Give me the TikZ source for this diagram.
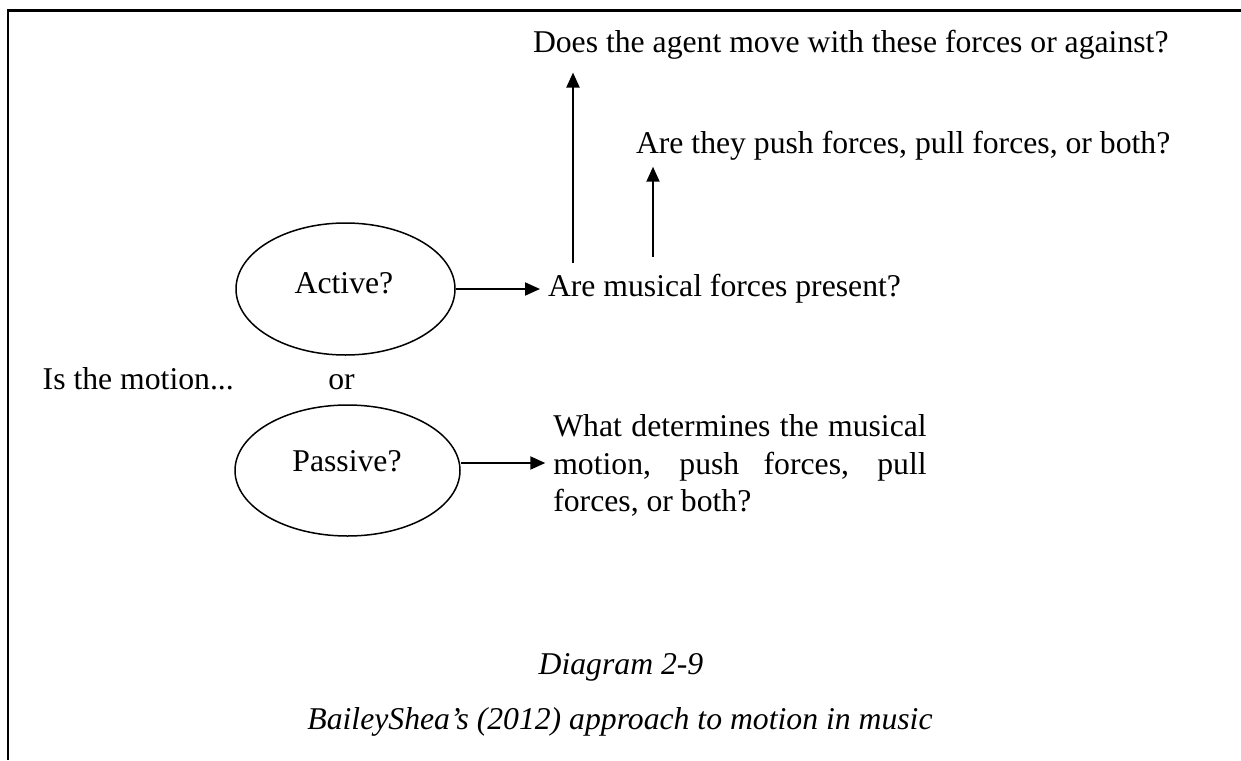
\documentclass[tikz,border=0pt]{standalone}
\usepackage{fontspec}
\setmainfont{Liberation Serif}
\usetikzlibrary{shapes.geometric,arrows.meta}
\newcommand\myfs{\fontsize{15.85pt}{18.75pt}\selectfont}
\tikzset{
  txt/.style={font=\myfs, inner sep=0pt, outer sep=0pt},
  oval/.style={draw, ellipse, line width=0.75pt, inner sep=0pt},
  arr/.style={line width=1pt, -{Triangle[length=7.5pt,width=6.5pt]}},
  frame/.style={line width=1.3pt},
}
\begin{document}
\begin{tikzpicture}[x=0.5pt,y=-0.5pt]
\useasboundingbox (0,0) rectangle (1241,760);
% frame (top and left edges)
\coordinate (fa) at (8,760);
\coordinate (fb) at (8,10.3);
\coordinate (fc) at (1241,10.3);
\draw[frame] (fa) -- (fb) -- (fc);

% question texts
\node[txt, anchor=base west] (q1) at (533,52.7) {Does the agent move with these forces or against?};
\node[txt, anchor=base west] (q2) at (636,153.3) {Are they push forces, pull forces, or both?};
\node[txt, anchor=base west] (musical) at (548,296) {Are musical forces present?};

% ellipses
\node[oval, minimum width=109.5pt, minimum height=66pt] (active) at (345.5,289) {};
\node[txt, anchor=base] (activelbl) at (344,293) {Active?};
\node[oval, minimum width=112.5pt, minimum height=65.5pt] (passive) at (347.5,470.5) {};
\node[txt, anchor=base] (passivelbl) at (347,471.7) {Passive?};

\node[txt, anchor=base west] (motion) at (42.7,389) {Is the motion...};
\node[txt, anchor=base] (or) at (341.5,389) {or};

\node[txt, anchor=base west] (what) at (553.3,436.7) {\parbox[t]{186.7pt}{\myfs
  \makebox[186.7pt][s]{What determines the musical}\\
  \makebox[186.7pt][s]{motion, push forces, pull}\\
  forces, or both?}};

% captions
\node[txt, anchor=base] (cap1) at (621,674) {\itshape Diagram 2-9};
\node[txt, anchor=base] (cap2) at (620,729) {\itshape BaileyShea's (2012) approach to motion in music};

% connectors
\draw[arr] (active.east) -- ([xshift=-4pt]active.east -| musical.west);
\draw[arr] ([yshift=3.75pt]passive.east) -- ([xshift=-4pt,yshift=3.75pt]passive.east -| what.west);
\draw[arr] ([xshift=12.5pt,yshift=5.5pt]musical.north west) -- ([xshift=20pt,yshift=-6.5pt]q1.south west);
\draw[arr] ([xshift=52.5pt,yshift=8.5pt]musical.north west) -- ([xshift=8.5pt,yshift=-3.3pt]q2.south west);
\end{tikzpicture}
\end{document}
